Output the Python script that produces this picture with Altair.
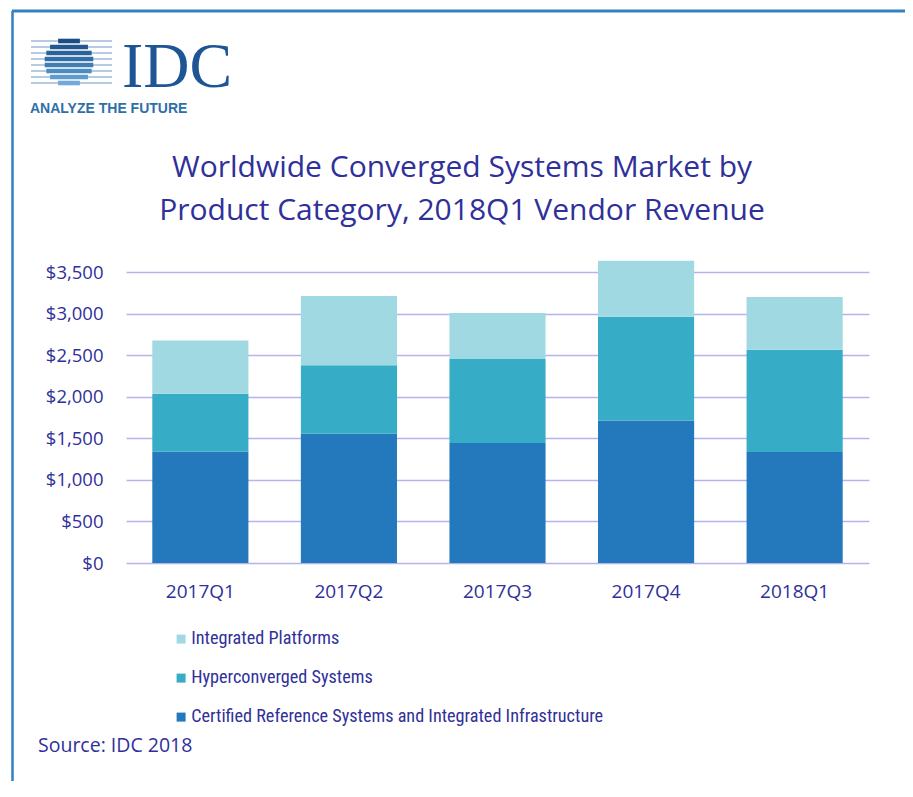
import altair as alt
import pandas as pd
import numpy as np

# ---------------- data ----------------
quarters = ["2017Q1", "2017Q2", "2017Q3", "2017Q4", "2018Q1"]
certified = [1342, 1555, 1443, 1715, 1335]
hyperconverged = [694, 822, 1011, 1247, 1231]
integrated = [641, 834, 553, 674, 633]
categories = [
    "Integrated Platforms",
    "Hyperconverged Systems",
    "Certified Reference Systems and Integrated Infrastructure",
]
colors = ["#a1d9e3", "#36acc6", "#2479bd"]
y_ticks = [0, 500, 1000, 1500, 2000, 2500, 3000, 3500]
title_lines = ["Worldwide Converged Systems Market by",
               "Product Category, 2018Q1 Vendor Revenue"]
source_text = "Source: IDC 2018"

rows = []
for i, q in enumerate(quarters):
    for cat, vals, o in [(categories[2], certified, 0),
                         (categories[1], hyperconverged, 1),
                         (categories[0], integrated, 2)]:
        rows.append({"quarter": q, "category": cat, "revenue": vals[i], "order": o})
df = pd.DataFrame(rows)

# ---------------- layout ----------------
W, H = 743, 291
OX, OY = 126, 272          # page position of plot origin
PAD_L, PAD_T = OX - 8, OY - 8
PAD_R, PAD_B = 36, 218
SVG_W = PAD_L + W + PAD_R
SVG_H = PAD_T + H + PAD_B
TXT = "#30309a"
FONT = "Open Sans"
LEG_FONT = "Roboto Condensed, Open Sans Condensed, DejaVu Sans Condensed, Roboto"

bars = alt.Chart(df).mark_bar(clip=False).encode(
    x=alt.X("quarter:N", sort=quarters,
            scale=alt.Scale(paddingInner=0.353, paddingOuter=0.177),
            axis=alt.Axis(title=None, labelAngle=0, domain=False, ticks=False,
                          tickSize=0, labelPadding=19, labelFontSize=19,
                          labelFont=FONT, labelColor=TXT, grid=False)),
    y=alt.Y("revenue:Q", stack="zero",
            scale=alt.Scale(domain=[0, 3500], nice=False),
            axis=alt.Axis(title=None, values=y_ticks, format="$,.0f", domain=False,
                          ticks=False, tickSize=0, labelPadding=23,
                          labelFontSize=18.5, labelFont=FONT, labelColor=TXT,
                          grid=True, gridColor="#b3b3ee", gridWidth=1.3)),
    color=alt.Color("category:N",
                    scale=alt.Scale(domain=categories, range=colors),
                    legend=alt.Legend(title=None, orient="none",
                                      legendX=46, legendY=358,
                                      direction="vertical", symbolType="square",
                                      symbolSize=81, symbolStrokeWidth=0,
                                      labelFont=LEG_FONT,
                                      labelFontSize=18.2, labelColor=TXT,
                                      rowPadding=20, labelOffset=1,
                                      labelLimit=1000)),
    order=alt.Order("order:Q", sort="ascending"),
)


def txt(s, x, y, size, color=TXT, font=FONT, align="left",
        baseline="middle", weight="normal"):
    return alt.Chart(pd.DataFrame({"t": [s]})).mark_text(
        align=align, baseline=baseline, fontSize=size, font=font,
        color=color, fontWeight=weight
    ).encode(x=alt.value(x - OX), y=alt.value(y - OY), text="t:N")


def hline(x1, x2, y, width, color):
    return alt.Chart(pd.DataFrame({"a": [0]})).mark_rule(
        color=color, strokeWidth=width
    ).encode(x=alt.value(x1 - OX), x2=alt.value(x2 - OX), y=alt.value(y - OY))


def vline(x, y1, y2, width, color):
    return alt.Chart(pd.DataFrame({"a": [0]})).mark_rule(
        color=color, strokeWidth=width
    ).encode(x=alt.value(x - OX), y=alt.value(y1 - OY), y2=alt.value(y2 - OY))


layers = [bars]
layers.append(txt(title_lines[0], 462, 168, 30, align="center"))
layers.append(txt(title_lines[1], 462, 211, 30, align="center"))
layers.append(txt(source_text, 38, 746, 19.5))

# border
layers.append(hline(12, 8 + SVG_W, 11, 3, "#3381c2"))
layers.append(vline(12.5, 11, 8 + SVG_H, 2.5, "#3381c2"))

# logo
cx, cy, r = 69, 62, 23
band_ys = [41, 47, 53, 59, 65, 71, 77, 83]
band_cols = ["#1b4c87", "#22578f", "#2a6299", "#336fa6", "#3f7db3",
             "#4d8cc2", "#5e9bcf", "#70aadb"]
for yy in band_ys:
    layers.append(hline(31, 112, yy, 1.0, "#6f97c6"))
for yy, cc in zip(band_ys, band_cols):
    half = float(np.sqrt(max(r * r - (yy - cy) ** 2, 0))) + 1.5
    layers.append(hline(cx - half, cx + half, yy, 4.6, cc))
layers.append(txt("IDC", 122, 87, 64, color="#1d5595",
                  font="Liberation Serif", baseline="alphabetic"))
layers.append(txt("ANALYZE THE FUTURE", 30, 112.5, 14, color="#2f6fa6",
                  font="Liberation Sans", baseline="alphabetic", weight="bold"))

chart = alt.layer(*layers).properties(
    width=W, height=H,
    padding={"left": PAD_L, "top": PAD_T, "right": PAD_R, "bottom": PAD_B},
    autosize=alt.AutoSizeParams(type="none"),
    background="white",
).configure_view(stroke=None)

chart.save("out.html", embed_options={"renderer": "svg", "actions": False})
